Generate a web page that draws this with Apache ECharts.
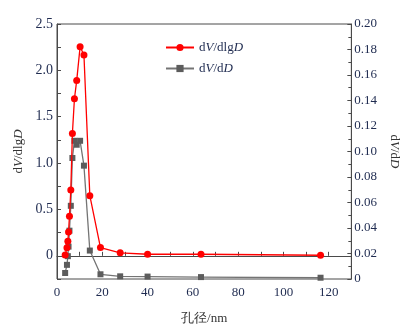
<!DOCTYPE html>
<html>
<head>
<meta charset="utf-8">
<style>
  html, body { margin: 0; padding: 0; background: #fff; }
  #chart { width: 409px; height: 330px; }
</style>
<script src="https://cdn.jsdelivr.net/npm/echarts@6/dist/echarts.min.js"></script>
</head>
<body>
<div id="chart"></div>
<script>
// Pore size distribution (BJH): dV/dlgD on the left axis, dV/dD on the right axis
const poreSize = [3.6, 4.4, 4.8, 5.1, 5.5, 6.1, 6.8, 7.7, 8.7, 10.2, 11.9, 14.5, 19.2, 27.9, 40.0, 63.6, 116.4];
const dVdlgD = [0.01, 0.086, 0.156, 0.257, 0.428, 0.709, 1.319, 1.694, 1.89, 2.254, 2.165, 0.648, 0.089, 0.032, 0.017, 0.017, 0.006];
const dVdD = [0.0047, 0.0111, 0.0179, 0.0254, 0.0379, 0.0574, 0.0949, 0.1084, 0.1053, 0.1084, 0.0889, 0.0223, 0.0037, 0.0021, 0.0019, 0.0015, 0.001];

const seriesNames = ['dV/dlgD', 'dV/dD'];
const richNames = {
  'dV/dlgD': '{n|d}{i|V}{n|/dlg}{i|D}',
  'dV/dD': '{n|d}{i|V}{n|/d}{i|D}'
};

const serif = '"Liberation Serif", "DejaVu Serif", serif';
const numColor = '#1f2b50';
const axisColor = '#4a4a4a';

function rich(size, color) {
  return {
    n: { fontFamily: serif, fontSize: size, color: color },
    i: { fontFamily: serif, fontSize: size, color: color, fontStyle: 'italic' }
  };
}

const pair = (xs, ys) => xs.map((x, k) => [x, ys[k]]);

const chart = echarts.init(document.getElementById('chart'), null, { renderer: 'canvas' });

chart.setOption({
  animation: false,
  backgroundColor: '#fff',
  grid: {
    left: 57, right: 55, top: 24, bottom: 49,
    show: true, borderColor: axisColor, borderWidth: 1
  },
  legend: {
    orient: 'vertical',
    left: 160, top: 36,
    itemWidth: 28, itemHeight: 9, itemGap: 8,
    data: seriesNames,
    formatter: name => richNames[name],
    textStyle: { rich: rich(13, numColor) }
  },
  xAxis: {
    type: 'value',
    min: 0, max: 130, interval: 10,
    name: '孔径/nm',
    nameLocation: 'middle',
    nameGap: 33,
    nameTextStyle: { fontFamily: serif, fontSize: 13, color: '#333' },
    axisLine: { show: true, lineStyle: { color: axisColor, width: 1 } },
    axisTick: { show: true, inside: true, length: 4, lineStyle: { color: axisColor } },
    axisLabel: {
      margin: 7,
      fontFamily: serif, fontSize: 13, color: numColor,
      formatter: v => (Math.round(v) % 20 === 0 && v < 130) ? String(Math.round(v)) : ''
    },
    splitLine: { show: false }
  },
  yAxis: [
    {
      type: 'value',
      min: -0.25, max: 2.5, interval: 0.25,
      position: 'left',
      name: richNames['dV/dlgD'],
      nameLocation: 'middle',
      nameGap: 30,
      nameRotate: 90,
      nameTextStyle: { rich: rich(13, '#333') },
      axisLine: { show: true, lineStyle: { color: axisColor, width: 1 } },
      axisTick: { show: true, inside: true, length: 4, lineStyle: { color: axisColor } },
      axisLabel: {
        margin: 4,
        fontFamily: serif, fontSize: 14, color: numColor,
        formatter: v => {
          const h = v * 2;
          if (v < -1e-9 || Math.abs(h - Math.round(h)) > 1e-6) return '';
          if (Math.abs(v) < 1e-9) return '0';
          return v.toFixed(1);
        }
      },
      splitLine: { show: false }
    },
    {
      type: 'value',
      min: 0, max: 0.2, interval: 0.02,
      position: 'right',
      name: richNames['dV/dD'],
      nameLocation: 'middle',
      nameGap: 33,
      nameRotate: -90,
      nameTextStyle: { rich: rich(13, '#333') },
      axisLine: { show: true, lineStyle: { color: axisColor, width: 1 } },
      axisTick: { show: true, inside: true, length: 4, lineStyle: { color: axisColor } },
      minorTick: { show: true, splitNumber: 2, length: 3, lineStyle: { color: axisColor } },
      axisLabel: {
        margin: 3,
        fontFamily: serif, fontSize: 13, color: numColor,
        formatter: v => Math.abs(v) < 1e-9 ? '0' : v.toFixed(2)
      },
      splitLine: { show: false }
    }
  ],
  series: [
    {
      name: 'dV/dD',
      type: 'line',
      yAxisIndex: 1,
      data: pair(poreSize, dVdD),
      symbol: 'rect',
      symbolSize: 6,
      z: 2,
      lineStyle: { color: '#747474', width: 1.3 },
      itemStyle: { color: '#5c5c5c' }
    },
    {
      name: 'dV/dlgD',
      type: 'line',
      yAxisIndex: 0,
      data: pair(poreSize, dVdlgD),
      symbol: 'circle',
      symbolSize: 7,
      z: 3,
      lineStyle: { color: '#ff0000', width: 1.3 },
      itemStyle: { color: '#ff0000' }
    }
  ]
});
</script>
</body>
</html>
